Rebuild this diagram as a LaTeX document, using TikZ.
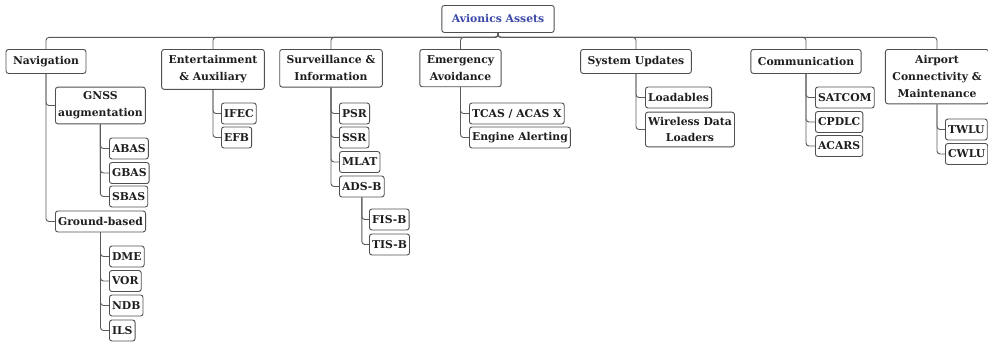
\documentclass[tikz,border=0pt]{standalone}
\usepackage{fontspec}
\setmainfont{DejaVu Serif}
\usetikzlibrary{positioning, calc}
\definecolor{boxgray}{HTML}{505050}
\definecolor{linegray}{HTML}{5A5A5A}
\definecolor{titleblue}{HTML}{3A48A8}
\definecolor{txtgray}{HTML}{1E1E1E}

\begin{document}
\begin{tikzpicture}[x=1pt,y=-1pt,draw=boxgray]
	\def \rowroot{5}
	\def \rowone{49}
	\tikzstyle{base}=[draw=boxgray,line width=0.9pt,rounded corners=2.5pt,fill=white,text=txtgray,font=\bfseries\fontsize{10.8}{16.7}\selectfont,align=center]
	\tikzstyle{root-node}=[base,anchor=north,text=titleblue,minimum height=27pt,inner xsep=10pt]
	\tikzstyle{cat-node}=[base,anchor=north,minimum height=24pt,inner ysep=6.3pt,inner xsep=7pt]
	\tikzstyle{sub-node}=[base,anchor=west,minimum height=21pt,inner ysep=4.8pt,inner xsep=2.6pt]
	\tikzstyle{bus-edge}=[draw=linegray,line width=0.9pt,rounded corners=3pt,to path={-- ++(0,4.5) -| (\tikztotarget)}]
	\tikzstyle{tree-edge}=[draw=linegray,line width=0.9pt,rounded corners=3pt,to path={|- (\tikztotarget)}]

	\useasboundingbox (0,0) rectangle (988,343);

	% root
	\node[root-node] (root) at (498,\rowroot) {Avionics Assets};

	% categories
	\node[cat-node] (nav)  at (46,\rowone)    {Navigation};
	\node[cat-node] (ent)  at (213,\rowone)   {Entertainment\\\& Auxiliary};
	\node[cat-node] (surv) at (331,\rowone)   {Surveillance \&\\Information};
	\node[cat-node] (emg)  at (460.5,\rowone) {Emergency\\Avoidance};
	\node[cat-node] (sys)  at (636,\rowone)   {System Updates};
	\node[cat-node] (com)  at (806,\rowone)   {Communication};
	\node[cat-node] (air)  at (937,\rowone)   {Airport\\Connectivity \&\\Maintenance};

	% navigation
	\node[sub-node] (gnss) at (55,105.5)  {GNSS\\augmentation};
	\node[sub-node] (abas) at (109,148.5) {ABAS};
	\node[sub-node] (gbas) at (109,173)   {GBAS};
	\node[sub-node] (sbas) at (109,196.5) {SBAS};
	\node[sub-node] (grnd) at (55,221.5)  {Ground-based};
	\node[sub-node] (dme)  at (109,256.5) {DME};
	\node[sub-node] (vor)  at (109,281)   {VOR};
	\node[sub-node] (ndb)  at (109,305.5) {NDB};
	\node[sub-node] (ils)  at (109,330.5) {ILS};

	% entertainment
	\node[sub-node] (ifec) at (221,113.5) {IFEC};
	\node[sub-node] (efb)  at (221,137.5) {EFB};

	% surveillance
	\node[sub-node] (psr)  at (339,113.5) {PSR};
	\node[sub-node] (ssr)  at (339,137.5) {SSR};
	\node[sub-node] (mlat) at (339,162)   {MLAT};
	\node[sub-node] (adsb) at (339,186.5) {ADS-B};
	\node[sub-node] (fisb) at (369,219.5) {FIS-B};
	\node[sub-node] (tisb) at (369,244.5) {TIS-B};

	% emergency
	\node[sub-node] (tcas) at (469,113.5) {TCAS / ACAS X};
	\node[sub-node] (eng)  at (469,137.5) {Engine Alerting};

	% updates
	\node[sub-node] (load) at (645,97.5)  {Loadables};
	\node[sub-node] (wdl)  at (645,129.5) {Wireless Data\\Loaders};

	% communication
	\node[sub-node] (sat)  at (815,97.5)  {SATCOM};
	\node[sub-node] (cpd)  at (815,122)   {CPDLC};
	\node[sub-node] (acar) at (815,146)   {ACARS};

	% airport
	\node[sub-node] (twlu) at (945,129.5) {TWLU};
	\node[sub-node] (cwlu) at (945,154)   {CWLU};

	\path (root.south) edge[bus-edge] (nav.north)
		(root.south) edge[bus-edge] (ent.north)
		(root.south) edge[bus-edge] (surv.north)
		(root.south) edge[bus-edge] (emg.north)
		(root.south) edge[bus-edge] (sys.north)
		(root.south) edge[bus-edge] (com.north)
		(root.south) edge[bus-edge] (air.north);

	\path (nav.south) edge[tree-edge] (gnss.west)
		(nav.south) edge[tree-edge] (grnd.west)
		(gnss.south) edge[tree-edge] (abas.west)
		(gnss.south) edge[tree-edge] (gbas.west)
		(gnss.south) edge[tree-edge] (sbas.west)
		(grnd.south) edge[tree-edge] (dme.west)
		(grnd.south) edge[tree-edge] (vor.west)
		(grnd.south) edge[tree-edge] (ndb.west)
		(grnd.south) edge[tree-edge] (ils.west)
		(ent.south) edge[tree-edge] (ifec.west)
		(ent.south) edge[tree-edge] (efb.west)
		(surv.south) edge[tree-edge] (psr.west)
		(surv.south) edge[tree-edge] (ssr.west)
		(surv.south) edge[tree-edge] (mlat.west)
		(surv.south) edge[tree-edge] (adsb.west)
		(adsb.south) edge[tree-edge] (fisb.west)
		(adsb.south) edge[tree-edge] (tisb.west)
		(emg.south) edge[tree-edge] (tcas.west)
		(emg.south) edge[tree-edge] (eng.west)
		(sys.south) edge[tree-edge] (load.west)
		(sys.south) edge[tree-edge] (wdl.west)
		(com.south) edge[tree-edge] (sat.west)
		(com.south) edge[tree-edge] (cpd.west)
		(com.south) edge[tree-edge] (acar.west)
		(air.south) edge[tree-edge] (twlu.west)
		(air.south) edge[tree-edge] (cwlu.west);
\end{tikzpicture}
\end{document}
